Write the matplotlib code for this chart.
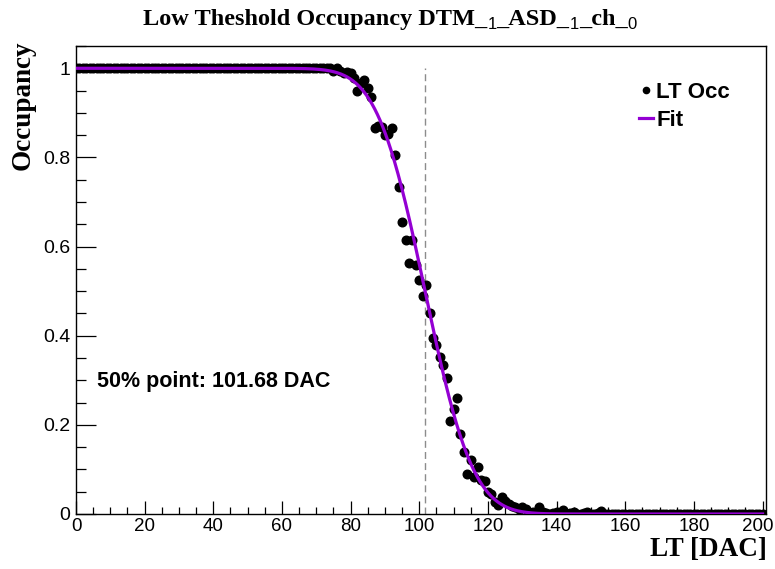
import math
import numpy as np
import matplotlib
matplotlib.use("Agg")
import matplotlib.pyplot as plt
from matplotlib.lines import Line2D
from matplotlib.ticker import MultipleLocator, FixedLocator
from matplotlib import transforms

# ---------------- data ----------------
dac = list(range(0, 201))
occ_flat = [
    1.0, 1.0, 1.0, 1.0, 1.0, 1.0, 1.0, 1.0, 1.0, 1.0,
    1.0, 1.0, 1.0, 1.0, 1.0, 1.0, 1.0, 1.0, 1.0, 1.0,
    1.0, 1.0, 1.0, 1.0, 1.0, 1.0, 1.0, 1.0, 1.0, 1.0,
    1.0, 1.0, 1.0, 1.0, 1.0, 1.0, 1.0, 1.0, 1.0, 1.0,
    1.0, 1.0, 1.0, 1.0, 1.0, 1.0, 1.0, 1.0, 1.0, 1.0,
    1.0, 1.0, 1.0, 1.0, 1.0, 1.0, 1.0, 1.0, 1.0, 1.0,
    1.0, 1.0, 1.0, 1.0, 1.0, 1.0, 1.0, 1.0, 1.0, 1.0,
    1.0, 1.0, 1.0, 1.0, 1.0,
]  # 0..74
occ_turn = [
    0.993, 1.000, 0.995, 0.990, 0.991, 0.989, 0.978, 0.950, 0.966, 0.973,   # 75..84
    0.955, 0.935, 0.865, 0.870, 0.868, 0.850, 0.852, 0.865, 0.805, 0.733,   # 85..94
    0.655, 0.614, 0.563, 0.614, 0.558, 0.525, 0.489, 0.513, 0.451, 0.395,   # 95..104
    0.379, 0.352, 0.334, 0.305, 0.209, 0.235, 0.260, 0.179, 0.139, 0.090,   # 105..114
    0.121, 0.083, 0.105, 0.076, 0.074, 0.049, 0.045, 0.027, 0.020, 0.038,   # 115..124
    0.030, 0.022, 0.018, 0.016, 0.012, 0.016, 0.011, 0.005, 0.004, 0.003,   # 125..134
    0.016, 0.005, 0.002, 0.000, 0.003, 0.005, 0.002, 0.008, 0.000, 0.002,   # 135..144
    0.005, 0.000, 0.000, 0.002, 0.004, 0.000, 0.000, 0.002, 0.006,          # 145..153
]
occ_tail = [
    0.0, 0.0, 0.0, 0.0, 0.0, 0.0, 0.0, 0.0, 0.0, 0.0,
    0.0, 0.0, 0.0, 0.0, 0.0, 0.0, 0.0, 0.0, 0.0, 0.0,
    0.0, 0.0, 0.0, 0.0, 0.0, 0.0, 0.0, 0.0, 0.0, 0.0,
    0.0, 0.0, 0.0, 0.0, 0.0, 0.0, 0.0, 0.0, 0.0, 0.0,
    0.0, 0.0, 0.0, 0.0, 0.0, 0.0, 0.0,
]  # 154..200
occupancy = occ_flat + occ_turn + occ_tail

# fit parameters (error-function turn-on)
fit_mu = 101.68
fit_sigma = 11.0

x_ticks = [0, 20, 40, 60, 80, 100, 120, 140, 160, 180, 200]
x_ticklabels = ["0", "20", "40", "60", "80", "100", "120", "140", "160", "180", "200"]
y_ticks = [0, 0.2, 0.4, 0.6, 0.8, 1.0]
y_ticklabels = ["0", "0.2", "0.4", "0.6", "0.8", "1"]

# ---------------- figure ----------------
W, H = 775, 569
fig = plt.figure(figsize=(W / 100, H / 100), dpi=100)
L, R, B, T = 76, 766, 514, 46
ax = fig.add_axes([L / W, (H - B) / H, (R - L) / W, (B - T) / H])

SANS = ["Liberation Sans", "DejaVu Sans"]
SERIF = ["Liberation Serif", "DejaVu Serif"]
PURPLE = "#9400d3"

ax.set_xlim(0, 201)
ax.set_ylim(0, 1.05)

# 50% marker line
ax.plot([fit_mu, fit_mu], [0, 1.0], color="#8c8c8c", lw=1.0,
        ls=(0, (5, 3)), zorder=1)

# data points
ax.plot(dac, occupancy, ls="none", marker="o", ms=6.2, color="black",
        mec="black", zorder=2, label="LT Occ")

# fit curve
xf = np.linspace(0, 200, 1001)
erfc_v = np.vectorize(math.erfc)
yf = 0.5 * erfc_v((xf - fit_mu) / (math.sqrt(2) * fit_sigma))
ax.plot(xf, yf, color=PURPLE, lw=2.3, zorder=3, label="Fit")

# axes styling
for s in ax.spines.values():
    s.set_linewidth(1.0)
    s.set_color("black")
ax.xaxis.set_major_locator(FixedLocator(x_ticks))
ax.xaxis.set_minor_locator(MultipleLocator(5))
ax.yaxis.set_major_locator(FixedLocator(y_ticks))
ax.yaxis.set_minor_locator(MultipleLocator(0.05))
ax.set_xticklabels(x_ticklabels, family=SANS, fontsize=13.5)
ax.set_yticklabels(y_ticklabels, family=SANS, fontsize=14)
ax.tick_params(axis="x", which="major", direction="in", length=9.5, width=0.9, pad=3)
ax.tick_params(axis="x", which="minor", direction="in", length=5, width=0.9)
ax.tick_params(axis="y", which="major", direction="in", length=14.5, width=0.9, pad=4)
ax.tick_params(axis="y", which="minor", direction="in", length=7.5, width=0.9)
ax.tick_params(top=False, right=False, which="both")

# nudge the last x tick label left so it stays inside the canvas
last = ax.get_xticklabels()[-1]
last.set_transform(last.get_transform() +
                   transforms.ScaledTranslation(-5 / 100, 0, fig.dpi_scale_trans))

# axis titles
fig.text(23 / W, (H - 40) / H, "Occupancy", rotation=90, ha="center", va="top",
         family=SERIF, fontweight="bold", fontsize=19.5)
fig.text(767 / W, (H - 550) / H, "LT [DAC]", ha="right", va="center",
         family=SERIF, fontweight="bold", fontsize=19.5)

# annotation
ax.text(97 / W, (H - 381) / H, "50% point: 101.68 DAC", transform=fig.transFigure,
        ha="left", va="center", family=SANS, fontweight="bold", fontsize=15.5)

# legend
handles = [
    Line2D([], [], ls="none", marker="o", ms=4.5, color="black"),
    Line2D([], [], color=PURPLE, lw=2.3),
]
leg = ax.legend(handles, ["LT Occ", "Fit"], loc="upper left",
                bbox_to_anchor=((639 - L) / (R - L), (514 - 82) / (B - T)),
                frameon=False, handlelength=0.65, handletextpad=0.12,
                labelspacing=0.32, borderpad=0, borderaxespad=0,
                prop={"family": SANS, "weight": "bold", "size": 16})

# title built from pieces (bold serif text, small sans subscripts)
pieces = [
    ("Low Theshold Occupancy DTM_", "main"),
    ("1", "sub"),
    ("_ASD_", "main"),
    ("1", "sub"),
    ("_ch_", "main"),
    ("0", "sub"),
]
renderer = fig.canvas.get_renderer()
baseline_px = 25
texts = []
for s, kind in pieces:
    if kind == "main":
        t = fig.text(0, (H - baseline_px) / H, s, family=SERIF, fontweight="bold",
                     fontsize=17.5, va="baseline", ha="left")
    else:
        t = fig.text(0, (H - baseline_px - 4) / H, s, family=SANS,
                     fontsize=12, va="baseline", ha="left")
    texts.append(t)
widths = [t.get_window_extent(renderer).width for t in texts]
total = sum(widths)
x0 = 390 - total / 2
for t, w in zip(texts, widths):
    t.set_x(x0 / W)
    x0 += w

fig.savefig("out.png", dpi=100)
